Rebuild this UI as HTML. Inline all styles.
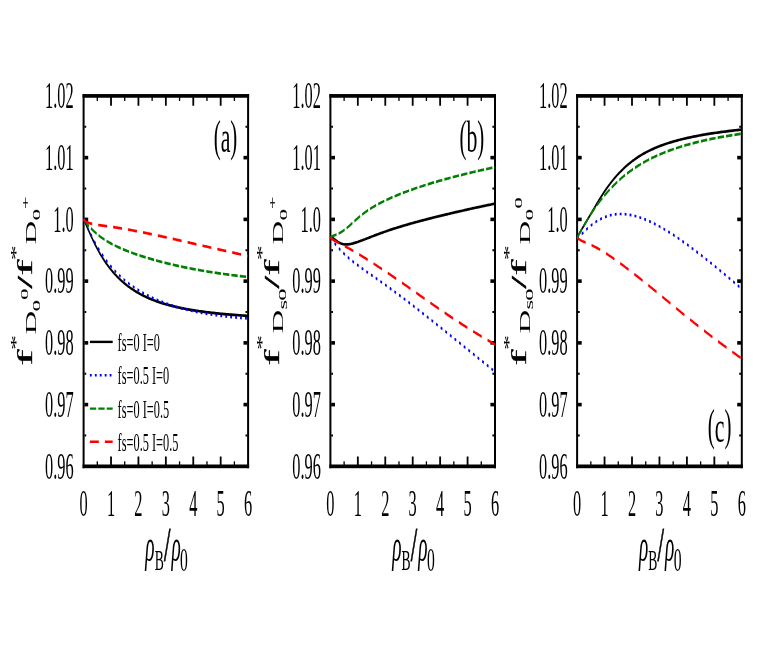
<!DOCTYPE html>
<html><head><meta charset="utf-8"><title>chart</title>
<style>html,body{margin:0;padding:0;background:#fff;}svg{display:block;will-change:transform;font-family:"Liberation Serif", serif;}svg text{filter:grayscale(1);}</style>
</head><body>
<svg width="764" height="655" viewBox="0 0 764 655" role="img" aria-label="Three panel line chart">
<rect x="0" y="0" width="764" height="655" fill="#ffffff"/>
<g fill="#000000" shape-rendering="auto">
<rect x="82.60" y="94.05" width="166.50" height="3.70"/>
<rect x="82.60" y="464.50" width="166.50" height="3.70"/>
<rect x="82.60" y="94.05" width="2.00" height="374.15"/>
<rect x="247.10" y="94.05" width="2.00" height="374.15"/>
<rect x="96.66" y="95.90" width="1.30" height="5.05"/>
<rect x="96.66" y="461.30" width="1.30" height="5.05"/>
<rect x="110.12" y="95.90" width="1.80" height="9.85"/>
<rect x="110.12" y="456.50" width="1.80" height="9.85"/>
<rect x="124.07" y="95.90" width="1.30" height="5.05"/>
<rect x="124.07" y="461.30" width="1.30" height="5.05"/>
<rect x="137.53" y="95.90" width="1.80" height="9.85"/>
<rect x="137.53" y="456.50" width="1.80" height="9.85"/>
<rect x="151.49" y="95.90" width="1.30" height="5.05"/>
<rect x="151.49" y="461.30" width="1.30" height="5.05"/>
<rect x="164.95" y="95.90" width="1.80" height="9.85"/>
<rect x="164.95" y="456.50" width="1.80" height="9.85"/>
<rect x="178.91" y="95.90" width="1.30" height="5.05"/>
<rect x="178.91" y="461.30" width="1.30" height="5.05"/>
<rect x="192.37" y="95.90" width="1.80" height="9.85"/>
<rect x="192.37" y="456.50" width="1.80" height="9.85"/>
<rect x="206.32" y="95.90" width="1.30" height="5.05"/>
<rect x="206.32" y="461.30" width="1.30" height="5.05"/>
<rect x="219.78" y="95.90" width="1.80" height="9.85"/>
<rect x="219.78" y="456.50" width="1.80" height="9.85"/>
<rect x="233.74" y="95.90" width="1.30" height="5.05"/>
<rect x="233.74" y="461.30" width="1.30" height="5.05"/>
<rect x="84.40" y="434.48" width="1.80" height="2.00"/>
<rect x="245.50" y="434.48" width="1.80" height="2.00"/>
<rect x="84.40" y="402.81" width="3.80" height="3.60"/>
<rect x="243.50" y="402.81" width="3.80" height="3.60"/>
<rect x="84.40" y="372.74" width="1.80" height="2.00"/>
<rect x="245.50" y="372.74" width="1.80" height="2.00"/>
<rect x="84.40" y="341.07" width="3.80" height="3.60"/>
<rect x="243.50" y="341.07" width="3.80" height="3.60"/>
<rect x="84.40" y="311.00" width="1.80" height="2.00"/>
<rect x="245.50" y="311.00" width="1.80" height="2.00"/>
<rect x="84.40" y="279.32" width="3.80" height="3.60"/>
<rect x="243.50" y="279.32" width="3.80" height="3.60"/>
<rect x="84.40" y="249.25" width="1.80" height="2.00"/>
<rect x="245.50" y="249.25" width="1.80" height="2.00"/>
<rect x="84.40" y="217.58" width="3.80" height="3.60"/>
<rect x="243.50" y="217.58" width="3.80" height="3.60"/>
<rect x="84.40" y="187.51" width="1.80" height="2.00"/>
<rect x="245.50" y="187.51" width="1.80" height="2.00"/>
<rect x="84.40" y="155.84" width="3.80" height="3.60"/>
<rect x="243.50" y="155.84" width="3.80" height="3.60"/>
<rect x="84.40" y="125.77" width="1.80" height="2.00"/>
<rect x="245.50" y="125.77" width="1.80" height="2.00"/>
</g>
<g fill="none" stroke-linecap="butt" stroke-linejoin="round" transform="scale(0.4750 1)">
<path d="M176.0 219.40 L176.6 219.91 L177.1 220.45 L177.7 221.02 L178.3 221.63 L179.0 222.26 L179.2 222.49 L179.6 222.92 L180.2 223.61 L180.9 224.32 L181.6 225.06 L182.3 225.83 L182.4 225.87 L183.0 226.62 L183.8 227.44 L184.6 228.28 L185.3 229.14 L185.5 229.35 L186.2 230.02 L187.0 230.93 L187.8 231.86 L188.7 232.80 L188.7 232.81 L189.6 233.77 L190.5 234.75 L191.5 235.75 L191.9 236.19 L192.4 236.77 L193.4 237.81 L194.5 238.86 L195.1 239.47 L195.5 239.92 L196.6 241.00 L197.7 242.10 L198.2 242.63 L198.8 243.20 L200.0 244.32 L201.2 245.45 L201.4 245.66 L202.4 246.59 L203.7 247.74 L204.6 248.56 L205.0 248.90 L206.3 250.07 L207.7 251.25 L207.8 251.33 L209.1 252.43 L210.5 253.62 L210.9 253.97 L212.0 254.82 L213.5 256.02 L214.1 256.50 L215.1 257.22 L216.7 258.43 L217.3 258.91 L218.3 259.64 L220.0 260.85 L220.5 261.20 L221.7 262.07 L223.5 263.29 L223.7 263.40 L225.3 264.50 L226.8 265.49 L227.2 265.72 L229.1 266.93 L230.0 267.49 L231.1 268.14 L233.1 269.35 L233.2 269.40 L235.2 270.55 L236.4 271.23 L237.3 271.75 L239.5 272.95 L239.5 272.98 L241.7 274.14 L242.7 274.65 L244.1 275.32 L245.9 276.24 L246.4 276.50 L248.9 277.67 L249.1 277.78 L251.3 278.83 L252.3 279.24 L253.9 279.98 L255.4 280.64 L256.5 281.12 L258.6 281.99 L259.2 282.25 L261.8 283.28 L262.0 283.37 L264.9 284.48 L265.0 284.52 L267.8 285.57 L268.1 285.70 L270.8 286.65 L271.3 286.84 L273.9 287.72 L274.5 287.93 L277.0 288.77 L277.7 288.98 L280.3 289.81 L280.8 289.99 L283.6 290.83 L284.0 290.95 L287.0 291.83 L287.2 291.88 L290.4 292.77 L290.5 292.81 L293.6 293.63 L294.1 293.78 L296.7 294.45 L297.8 294.73 L299.9 295.24 L301.6 295.65 L303.1 296.00 L305.5 296.56 L306.3 296.73 L309.4 297.43 L309.5 297.45 L312.6 298.10 L313.6 298.31 L315.8 298.75 L317.9 299.15 L319.0 299.37 L322.2 299.97 L322.2 299.97 L325.3 300.54 L326.6 300.77 L328.5 301.10 L331.2 301.55 L331.7 301.64 L334.9 302.15 L335.9 302.31 L338.0 302.65 L340.7 303.05 L341.2 303.13 L344.4 303.60 L345.6 303.77 L347.6 304.05 L350.7 304.47 L350.7 304.48 L353.9 304.90 L355.9 305.16 L357.1 305.31 L360.3 305.70 L361.2 305.82 L363.5 306.08 L366.6 306.45 L366.7 306.46 L369.8 306.81 L372.3 307.08 L373.0 307.15 L376.2 307.49 L378.1 307.69 L379.3 307.81 L382.5 308.12 L384.1 308.27 L385.7 308.43 L388.9 308.72 L390.1 308.84 L392.1 309.01 L395.2 309.29 L396.4 309.39 L398.4 309.56 L401.6 309.82 L402.8 309.92 L404.8 310.07 L407.9 310.32 L409.4 310.43 L411.1 310.56 L414.3 310.79 L416.2 310.93 L417.5 311.02 L420.6 311.24 L423.1 311.41 L423.8 311.46 L427.0 311.66 L430.2 311.87 L430.2 311.87 L433.4 312.06 L436.5 312.25 L437.5 312.31 L439.7 312.44 L442.9 312.62 L445.1 312.74 L446.1 312.80 L449.2 312.97 L452.4 313.13 L452.8 313.15 L455.6 313.30 L458.8 313.45 L460.7 313.55 L461.9 313.61 L465.1 313.76 L468.3 313.90 L468.8 313.93 L471.5 314.04 L474.7 314.18 L477.2 314.29 L477.8 314.32 L481.0 314.45 L484.2 314.58 L485.7 314.64 L487.4 314.70 L490.5 314.82 L493.7 314.94 L494.5 314.97 L496.9 315.05 L500.1 315.16 L503.3 315.27 L503.5 315.28 L506.4 315.38 L509.6 315.48 L512.8 315.58 L512.8 315.58 L516.0 315.68 L519.1 315.78 L522.3 315.87" stroke="#000000" stroke-width="2.70"/>
<path d="M176.0 219.40 L176.6 219.90 L177.1 220.42 L177.7 220.98 L178.3 221.55 L179.0 222.15 L179.2 222.37 L179.6 222.78 L180.2 223.42 L180.9 224.09 L181.6 224.79 L182.3 225.50 L182.4 225.54 L183.0 226.24 L183.8 227.00 L184.6 227.77 L185.3 228.57 L185.5 228.76 L186.2 229.39 L187.0 230.22 L187.8 231.07 L188.7 231.94 L188.7 231.95 L189.6 232.83 L190.5 233.74 L191.5 234.66 L191.9 235.06 L192.4 235.59 L193.4 236.55 L194.5 237.51 L195.1 238.08 L195.5 238.49 L196.6 239.49 L197.7 240.49 L198.2 240.99 L198.8 241.51 L200.0 242.55 L201.2 243.59 L201.4 243.78 L202.4 244.64 L203.7 245.71 L204.6 246.46 L205.0 246.78 L206.3 247.87 L207.7 248.96 L207.8 249.04 L209.1 250.06 L210.5 251.17 L210.9 251.50 L212.0 252.29 L213.5 253.41 L214.1 253.86 L215.1 254.54 L216.7 255.68 L217.3 256.12 L218.3 256.82 L220.0 257.96 L220.5 258.29 L221.7 259.11 L223.5 260.27 L223.7 260.37 L225.3 261.43 L226.8 262.37 L227.2 262.59 L229.1 263.75 L230.0 264.29 L231.1 264.91 L233.1 266.08 L233.2 266.13 L235.2 267.24 L236.4 267.90 L237.3 268.41 L239.5 269.58 L239.5 269.60 L241.7 270.74 L242.7 271.24 L244.1 271.90 L245.9 272.81 L246.4 273.07 L248.9 274.23 L249.1 274.33 L251.3 275.38 L252.3 275.79 L253.9 276.54 L255.4 277.20 L256.5 277.68 L258.6 278.56 L259.2 278.83 L261.8 279.88 L262.0 279.97 L264.9 281.10 L265.0 281.14 L267.8 282.23 L268.1 282.37 L270.8 283.35 L271.3 283.55 L273.9 284.47 L274.5 284.69 L277.0 285.58 L277.7 285.80 L280.3 286.67 L280.8 286.87 L283.6 287.76 L284.0 287.90 L287.0 288.85 L287.2 288.91 L290.4 289.87 L290.5 289.92 L293.6 290.81 L294.1 290.98 L296.7 291.72 L297.8 292.03 L299.9 292.61 L301.6 293.07 L303.1 293.46 L305.5 294.10 L306.3 294.29 L309.4 295.09 L309.5 295.12 L312.6 295.87 L313.6 296.12 L315.8 296.63 L317.9 297.11 L319.0 297.37 L322.2 298.08 L322.2 298.08 L325.3 298.77 L326.6 299.05 L328.5 299.44 L331.2 299.99 L331.7 300.09 L334.9 300.73 L335.9 300.93 L338.0 301.34 L340.7 301.84 L341.2 301.94 L344.4 302.52 L345.6 302.74 L347.6 303.09 L350.7 303.63 L350.7 303.64 L353.9 304.17 L355.9 304.49 L357.1 304.69 L360.3 305.19 L361.2 305.34 L363.5 305.68 L366.6 306.16 L366.7 306.17 L369.8 306.62 L372.3 306.98 L373.0 307.07 L376.2 307.51 L378.1 307.77 L379.3 307.93 L382.5 308.35 L384.1 308.54 L385.7 308.75 L388.9 309.14 L390.1 309.29 L392.1 309.52 L395.2 309.89 L396.4 310.02 L398.4 310.25 L401.6 310.60 L402.8 310.73 L404.8 310.94 L407.9 311.27 L409.4 311.42 L411.1 311.59 L414.3 311.90 L416.2 312.08 L417.5 312.21 L420.6 312.50 L423.1 312.72 L423.8 312.79 L427.0 313.07 L430.2 313.34 L430.2 313.34 L433.4 313.60 L436.5 313.86 L437.5 313.94 L439.7 314.10 L442.9 314.34 L445.1 314.50 L446.1 314.58 L449.2 314.80 L452.4 315.02 L452.8 315.05 L455.6 315.24 L458.8 315.44 L460.7 315.57 L461.9 315.65 L465.1 315.84 L468.3 316.03 L468.8 316.06 L471.5 316.21 L474.7 316.39 L477.2 316.52 L477.8 316.56 L481.0 316.73 L484.2 316.89 L485.7 316.96 L487.4 317.04 L490.5 317.19 L493.7 317.34 L494.5 317.37 L496.9 317.48 L500.1 317.61 L503.3 317.74 L503.5 317.76 L506.4 317.87 L509.6 317.99 L512.8 318.11 L512.8 318.11 L516.0 318.22 L519.1 318.33 L522.3 318.43" stroke="#0000ff" stroke-width="2.70" stroke-dasharray="3.9 6.5"/>
<path d="M176.0 219.40 L176.6 219.76 L177.1 220.13 L177.7 220.51 L178.3 220.89 L179.0 221.28 L179.2 221.42 L179.6 221.68 L180.2 222.08 L180.9 222.49 L181.6 222.91 L182.3 223.33 L182.4 223.35 L183.0 223.76 L183.8 224.19 L184.6 224.63 L185.3 225.07 L185.5 225.18 L186.2 225.52 L187.0 225.97 L187.8 226.43 L188.7 226.89 L188.7 226.90 L189.6 227.36 L190.5 227.83 L191.5 228.31 L191.9 228.52 L192.4 228.79 L193.4 229.28 L194.5 229.77 L195.1 230.05 L195.5 230.26 L196.6 230.75 L197.7 231.25 L198.2 231.50 L198.8 231.76 L200.0 232.26 L201.2 232.77 L201.4 232.87 L202.4 233.28 L203.7 233.80 L204.6 234.16 L205.0 234.32 L206.3 234.83 L207.7 235.36 L207.8 235.39 L209.1 235.88 L210.5 236.41 L210.9 236.56 L212.0 236.93 L213.5 237.46 L214.1 237.67 L215.1 237.99 L216.7 238.53 L217.3 238.74 L218.3 239.06 L220.0 239.59 L220.5 239.75 L221.7 240.13 L223.5 240.67 L223.7 240.72 L225.3 241.20 L226.8 241.64 L227.2 241.74 L229.1 242.28 L230.0 242.53 L231.1 242.82 L233.1 243.36 L233.2 243.38 L235.2 243.89 L236.4 244.20 L237.3 244.43 L239.5 244.97 L239.5 244.98 L241.7 245.51 L242.7 245.74 L244.1 246.05 L245.9 246.48 L246.4 246.60 L248.9 247.14 L249.1 247.19 L251.3 247.68 L252.3 247.88 L253.9 248.23 L255.4 248.55 L256.5 248.78 L258.6 249.20 L259.2 249.32 L261.8 249.83 L262.0 249.87 L264.9 250.42 L265.0 250.44 L267.8 250.98 L268.1 251.04 L270.8 251.53 L271.3 251.63 L273.9 252.09 L274.5 252.20 L277.0 252.65 L277.7 252.76 L280.3 253.21 L280.8 253.31 L283.6 253.77 L284.0 253.85 L287.0 254.34 L287.2 254.37 L290.4 254.89 L290.5 254.91 L293.6 255.39 L294.1 255.48 L296.7 255.89 L297.8 256.05 L299.9 256.37 L301.6 256.63 L303.1 256.85 L305.5 257.21 L306.3 257.32 L309.4 257.78 L309.5 257.80 L312.6 258.24 L313.6 258.38 L315.8 258.69 L317.9 258.97 L319.0 259.13 L322.2 259.56 L322.2 259.56 L325.3 259.99 L326.6 260.16 L328.5 260.41 L331.2 260.76 L331.7 260.83 L334.9 261.23 L335.9 261.36 L338.0 261.64 L340.7 261.97 L341.2 262.03 L344.4 262.43 L345.6 262.58 L347.6 262.81 L350.7 263.18 L350.7 263.19 L353.9 263.56 L355.9 263.79 L357.1 263.93 L360.3 264.29 L361.2 264.40 L363.5 264.65 L366.6 265.00 L366.7 265.01 L369.8 265.35 L372.3 265.62 L373.0 265.69 L376.2 266.02 L378.1 266.23 L379.3 266.35 L382.5 266.68 L384.1 266.83 L385.7 267.00 L388.9 267.32 L390.1 267.44 L392.1 267.63 L395.2 267.93 L396.4 268.04 L398.4 268.23 L401.6 268.53 L402.8 268.64 L404.8 268.82 L407.9 269.11 L409.4 269.24 L411.1 269.39 L414.3 269.67 L416.2 269.83 L417.5 269.94 L420.6 270.22 L423.1 270.42 L423.8 270.48 L427.0 270.74 L430.2 271.00 L430.2 271.01 L433.4 271.26 L436.5 271.51 L437.5 271.59 L439.7 271.75 L442.9 272.00 L445.1 272.16 L446.1 272.24 L449.2 272.47 L452.4 272.70 L452.8 272.73 L455.6 272.93 L458.8 273.16 L460.7 273.29 L461.9 273.38 L465.1 273.60 L468.3 273.81 L468.8 273.85 L471.5 274.02 L474.7 274.23 L477.2 274.39 L477.8 274.44 L481.0 274.64 L484.2 274.84 L485.7 274.93 L487.4 275.04 L490.5 275.23 L493.7 275.42 L494.5 275.47 L496.9 275.61 L500.1 275.79 L503.3 275.97 L503.5 275.99 L506.4 276.15 L509.6 276.33 L512.8 276.50 L512.8 276.51 L516.0 276.68 L519.1 276.84 L522.3 277.01" stroke="#008000" stroke-width="2.70" stroke-dasharray="13.3 4.4"/>
<path d="M176.0 219.40 L176.6 219.69 L177.1 219.97 L177.7 220.24 L178.3 220.50 L179.0 220.75 L179.2 220.83 L179.6 220.98 L180.2 221.21 L180.9 221.43 L181.6 221.64 L182.3 221.84 L182.4 221.85 L183.0 222.04 L183.8 222.22 L184.6 222.40 L185.3 222.57 L185.5 222.61 L186.2 222.73 L187.0 222.89 L187.8 223.04 L188.7 223.18 L188.7 223.18 L189.6 223.32 L190.5 223.45 L191.5 223.58 L191.9 223.63 L192.4 223.70 L193.4 223.82 L194.5 223.94 L195.1 224.01 L195.5 224.05 L196.6 224.16 L197.7 224.27 L198.2 224.32 L198.8 224.37 L200.0 224.47 L201.2 224.57 L201.4 224.59 L202.4 224.67 L203.7 224.77 L204.6 224.84 L205.0 224.87 L206.3 224.96 L207.7 225.06 L207.8 225.07 L209.1 225.16 L210.5 225.26 L210.9 225.28 L212.0 225.35 L213.5 225.45 L214.1 225.49 L215.1 225.56 L216.7 225.66 L217.3 225.70 L218.3 225.77 L220.0 225.87 L220.5 225.91 L221.7 225.99 L223.5 226.10 L223.7 226.11 L225.3 226.22 L226.8 226.32 L227.2 226.34 L229.1 226.47 L230.0 226.53 L231.1 226.60 L233.1 226.74 L233.2 226.75 L235.2 226.88 L236.4 226.97 L237.3 227.03 L239.5 227.19 L239.5 227.19 L241.7 227.35 L242.7 227.42 L244.1 227.52 L245.9 227.65 L246.4 227.69 L248.9 227.88 L249.1 227.89 L251.3 228.07 L252.3 228.14 L253.9 228.27 L255.4 228.39 L256.5 228.48 L258.6 228.64 L259.2 228.69 L261.8 228.90 L262.0 228.92 L264.9 229.15 L265.0 229.16 L267.8 229.40 L268.1 229.43 L270.8 229.66 L271.3 229.70 L273.9 229.92 L274.5 229.98 L277.0 230.20 L277.7 230.26 L280.3 230.49 L280.8 230.54 L283.6 230.79 L284.0 230.83 L287.0 231.11 L287.2 231.12 L290.4 231.42 L290.5 231.43 L293.6 231.72 L294.1 231.77 L296.7 232.02 L297.8 232.12 L299.9 232.32 L301.6 232.49 L303.1 232.63 L305.5 232.86 L306.3 232.94 L309.4 233.25 L309.5 233.26 L312.6 233.56 L313.6 233.66 L315.8 233.88 L317.9 234.09 L319.0 234.20 L322.2 234.52 L322.2 234.52 L325.3 234.84 L326.6 234.98 L328.5 235.17 L331.2 235.44 L331.7 235.50 L334.9 235.82 L335.9 235.93 L338.0 236.15 L340.7 236.43 L341.2 236.49 L344.4 236.82 L345.6 236.95 L347.6 237.15 L350.7 237.48 L350.7 237.49 L353.9 237.83 L355.9 238.04 L357.1 238.17 L360.3 238.51 L361.2 238.61 L363.5 238.85 L366.6 239.19 L366.7 239.20 L369.8 239.53 L372.3 239.80 L373.0 239.87 L376.2 240.21 L378.1 240.42 L379.3 240.56 L382.5 240.90 L384.1 241.07 L385.7 241.25 L388.9 241.59 L390.1 241.73 L392.1 241.94 L395.2 242.28 L396.4 242.41 L398.4 242.63 L401.6 242.97 L402.8 243.11 L404.8 243.32 L407.9 243.66 L409.4 243.82 L411.1 244.01 L414.3 244.36 L416.2 244.56 L417.5 244.70 L420.6 245.05 L423.1 245.32 L423.8 245.40 L427.0 245.74 L430.2 246.09 L430.2 246.10 L433.4 246.44 L436.5 246.78 L437.5 246.89 L439.7 247.13 L442.9 247.47 L445.1 247.71 L446.1 247.82 L449.2 248.16 L452.4 248.51 L452.8 248.55 L455.6 248.85 L458.8 249.20 L460.7 249.40 L461.9 249.54 L465.1 249.88 L468.3 250.23 L468.8 250.28 L471.5 250.57 L474.7 250.91 L477.2 251.18 L477.8 251.26 L481.0 251.60 L484.2 251.94 L485.7 252.11 L487.4 252.28 L490.5 252.62 L493.7 252.96 L494.5 253.05 L496.9 253.30 L500.1 253.64 L503.3 253.98 L503.5 254.01 L506.4 254.32 L509.6 254.66 L512.8 255.00 L512.8 255.00 L516.0 255.33 L519.1 255.67 L522.3 256.01" stroke="#ff0000" stroke-width="2.70" stroke-dasharray="18.8 12.7"/>
</g>
<text transform="translate(73.70 478.65) scale(0.4400 1)" font-size="37.20" text-anchor="end" font-weight="normal" font-style="normal">0.96</text>
<text transform="translate(73.70 416.91) scale(0.4400 1)" font-size="37.20" text-anchor="end" font-weight="normal" font-style="normal">0.97</text>
<text transform="translate(73.70 355.17) scale(0.4400 1)" font-size="37.20" text-anchor="end" font-weight="normal" font-style="normal">0.98</text>
<text transform="translate(73.70 293.42) scale(0.4400 1)" font-size="37.20" text-anchor="end" font-weight="normal" font-style="normal">0.99</text>
<text transform="translate(73.70 231.68) scale(0.4400 1)" font-size="37.20" text-anchor="end" font-weight="normal" font-style="normal">1.0</text>
<text transform="translate(73.70 169.94) scale(0.4400 1)" font-size="37.20" text-anchor="end" font-weight="normal" font-style="normal">1.01</text>
<text transform="translate(73.70 108.20) scale(0.4400 1)" font-size="37.20" text-anchor="end" font-weight="normal" font-style="normal">1.02</text>
<text transform="translate(83.60 515.60) scale(0.4400 1)" font-size="37.20" text-anchor="middle" font-weight="normal" font-style="normal">0</text>
<text transform="translate(111.02 515.60) scale(0.4400 1)" font-size="37.20" text-anchor="middle" font-weight="normal" font-style="normal">1</text>
<text transform="translate(138.43 515.60) scale(0.4400 1)" font-size="37.20" text-anchor="middle" font-weight="normal" font-style="normal">2</text>
<text transform="translate(165.85 515.60) scale(0.4400 1)" font-size="37.20" text-anchor="middle" font-weight="normal" font-style="normal">3</text>
<text transform="translate(193.27 515.60) scale(0.4400 1)" font-size="37.20" text-anchor="middle" font-weight="normal" font-style="normal">4</text>
<text transform="translate(220.68 515.60) scale(0.4400 1)" font-size="37.20" text-anchor="middle" font-weight="normal" font-style="normal">5</text>
<text transform="translate(248.10 515.60) scale(0.4400 1)" font-size="37.20" text-anchor="middle" font-weight="normal" font-style="normal">6</text>
<text transform="translate(145.35 560.60) scale(0.4150 1)" font-size="46.50" text-anchor="start" font-weight="normal" font-style="italic">&#961;</text>
<text transform="translate(154.65 570.40) scale(0.4750 1)" font-size="28.70" text-anchor="start" font-weight="normal" font-style="normal">B</text>
<text transform="translate(163.95 560.90) scale(0.4750 1)" font-size="49.00" text-anchor="start" font-weight="normal" font-style="normal" stroke="#000" stroke-width="0.9">/</text>
<text transform="translate(171.45 560.60) scale(0.4150 1)" font-size="46.50" text-anchor="start" font-weight="normal" font-style="italic">&#961;</text>
<text transform="translate(180.05 570.60) scale(0.4750 1)" font-size="33.00" text-anchor="start" font-weight="normal" font-style="normal">0</text>
<g fill="#000000" shape-rendering="auto">
<rect x="329.40" y="94.05" width="166.60" height="3.70"/>
<rect x="329.40" y="464.50" width="166.60" height="3.70"/>
<rect x="329.40" y="94.05" width="2.00" height="374.15"/>
<rect x="494.00" y="94.05" width="2.00" height="374.15"/>
<rect x="343.47" y="95.90" width="1.30" height="5.05"/>
<rect x="343.47" y="461.30" width="1.30" height="5.05"/>
<rect x="356.93" y="95.90" width="1.80" height="9.85"/>
<rect x="356.93" y="456.50" width="1.80" height="9.85"/>
<rect x="370.90" y="95.90" width="1.30" height="5.05"/>
<rect x="370.90" y="461.30" width="1.30" height="5.05"/>
<rect x="384.37" y="95.90" width="1.80" height="9.85"/>
<rect x="384.37" y="456.50" width="1.80" height="9.85"/>
<rect x="398.33" y="95.90" width="1.30" height="5.05"/>
<rect x="398.33" y="461.30" width="1.30" height="5.05"/>
<rect x="411.80" y="95.90" width="1.80" height="9.85"/>
<rect x="411.80" y="456.50" width="1.80" height="9.85"/>
<rect x="425.77" y="95.90" width="1.30" height="5.05"/>
<rect x="425.77" y="461.30" width="1.30" height="5.05"/>
<rect x="439.23" y="95.90" width="1.80" height="9.85"/>
<rect x="439.23" y="456.50" width="1.80" height="9.85"/>
<rect x="453.20" y="95.90" width="1.30" height="5.05"/>
<rect x="453.20" y="461.30" width="1.30" height="5.05"/>
<rect x="466.67" y="95.90" width="1.80" height="9.85"/>
<rect x="466.67" y="456.50" width="1.80" height="9.85"/>
<rect x="480.63" y="95.90" width="1.30" height="5.05"/>
<rect x="480.63" y="461.30" width="1.30" height="5.05"/>
<rect x="331.20" y="434.48" width="1.80" height="2.00"/>
<rect x="492.40" y="434.48" width="1.80" height="2.00"/>
<rect x="331.20" y="402.81" width="3.80" height="3.60"/>
<rect x="490.40" y="402.81" width="3.80" height="3.60"/>
<rect x="331.20" y="372.74" width="1.80" height="2.00"/>
<rect x="492.40" y="372.74" width="1.80" height="2.00"/>
<rect x="331.20" y="341.07" width="3.80" height="3.60"/>
<rect x="490.40" y="341.07" width="3.80" height="3.60"/>
<rect x="331.20" y="311.00" width="1.80" height="2.00"/>
<rect x="492.40" y="311.00" width="1.80" height="2.00"/>
<rect x="331.20" y="279.32" width="3.80" height="3.60"/>
<rect x="490.40" y="279.32" width="3.80" height="3.60"/>
<rect x="331.20" y="249.25" width="1.80" height="2.00"/>
<rect x="492.40" y="249.25" width="1.80" height="2.00"/>
<rect x="331.20" y="217.58" width="3.80" height="3.60"/>
<rect x="490.40" y="217.58" width="3.80" height="3.60"/>
<rect x="331.20" y="187.51" width="1.80" height="2.00"/>
<rect x="492.40" y="187.51" width="1.80" height="2.00"/>
<rect x="331.20" y="155.84" width="3.80" height="3.60"/>
<rect x="490.40" y="155.84" width="3.80" height="3.60"/>
<rect x="331.20" y="125.77" width="1.80" height="2.00"/>
<rect x="492.40" y="125.77" width="1.80" height="2.00"/>
</g>
<g fill="none" stroke-linecap="butt" stroke-linejoin="round" transform="scale(0.4750 1)">
<path d="M695.6 237.40 L696.1 237.35 L696.7 237.34 L697.3 237.37 L697.9 237.43 L698.5 237.52 L698.8 237.56 L699.2 237.65 L699.8 237.80 L700.5 237.98 L701.2 238.18 L701.9 238.41 L701.9 238.42 L702.6 238.65 L703.4 238.91 L704.1 239.18 L704.9 239.47 L705.1 239.54 L705.7 239.77 L706.6 240.08 L707.4 240.39 L708.3 240.70 L708.3 240.71 L709.2 241.02 L710.1 241.34 L711.1 241.65 L711.5 241.79 L712.0 241.96 L713.0 242.26 L714.0 242.55 L714.7 242.71 L715.1 242.83 L716.2 243.09 L717.3 243.34 L717.8 243.45 L718.4 243.57 L719.6 243.78 L720.8 243.96 L721.0 243.99 L722.0 244.12 L723.3 244.25 L724.2 244.33 L724.6 244.35 L725.9 244.42 L727.3 244.46 L727.4 244.47 L728.7 244.48 L730.1 244.46 L730.5 244.45 L731.6 244.42 L733.1 244.35 L733.7 244.32 L734.7 244.26 L736.3 244.13 L736.9 244.08 L737.9 243.99 L739.6 243.82 L740.1 243.76 L741.3 243.62 L743.1 243.41 L743.3 243.38 L744.9 243.17 L746.4 242.95 L746.8 242.90 L748.7 242.62 L749.6 242.48 L750.7 242.32 L752.7 242.00 L752.8 241.98 L754.8 241.65 L756.0 241.45 L756.9 241.29 L759.1 240.91 L759.2 240.90 L761.3 240.52 L762.3 240.34 L763.7 240.10 L765.5 239.76 L766.0 239.67 L768.5 239.23 L768.7 239.18 L771.0 238.77 L771.9 238.60 L773.5 238.29 L775.1 238.01 L776.2 237.81 L778.2 237.42 L778.9 237.31 L781.4 236.83 L781.6 236.79 L784.5 236.27 L784.6 236.25 L787.4 235.74 L787.8 235.67 L790.4 235.19 L791.0 235.09 L793.5 234.63 L794.1 234.52 L796.6 234.07 L797.3 233.95 L799.9 233.50 L800.5 233.39 L803.2 232.92 L803.7 232.84 L806.6 232.33 L806.8 232.29 L810.0 231.76 L810.2 231.74 L813.2 231.23 L813.8 231.14 L816.4 230.71 L817.5 230.53 L819.6 230.19 L821.3 229.92 L822.7 229.69 L825.2 229.31 L825.9 229.19 L829.1 228.70 L829.2 228.69 L832.3 228.21 L833.3 228.06 L835.5 227.74 L837.5 227.43 L838.6 227.27 L841.8 226.80 L841.8 226.80 L845.0 226.34 L846.3 226.16 L848.2 225.89 L850.8 225.51 L851.4 225.44 L854.5 225.00 L855.5 224.86 L857.7 224.56 L860.3 224.20 L860.9 224.12 L864.1 223.69 L865.3 223.53 L867.3 223.26 L870.4 222.85 L870.4 222.84 L873.6 222.42 L875.6 222.17 L876.8 222.01 L880.0 221.60 L880.9 221.48 L883.1 221.19 L886.3 220.79 L886.4 220.78 L889.5 220.38 L892.0 220.07 L892.7 219.99 L895.9 219.59 L897.8 219.35 L899.0 219.20 L902.2 218.81 L903.7 218.62 L905.4 218.42 L908.6 218.04 L909.8 217.89 L911.8 217.66 L914.9 217.28 L916.1 217.14 L918.1 216.90 L921.3 216.53 L922.5 216.38 L924.5 216.15 L927.7 215.79 L929.1 215.62 L930.8 215.42 L934.0 215.05 L935.9 214.84 L937.2 214.69 L940.4 214.33 L942.8 214.05 L943.6 213.97 L946.7 213.61 L949.9 213.25 L950.0 213.25 L953.1 212.90 L956.3 212.55 L957.3 212.44 L959.4 212.20 L962.6 211.85 L964.8 211.61 L965.8 211.50 L969.0 211.16 L972.2 210.81 L972.5 210.77 L975.3 210.47 L978.5 210.13 L980.4 209.92 L981.7 209.79 L984.9 209.45 L988.1 209.12 L988.6 209.06 L991.2 208.78 L994.4 208.45 L996.9 208.19 L997.6 208.11 L1000.8 207.78 L1004.0 207.45 L1005.5 207.30 L1007.1 207.13 L1010.3 206.80 L1013.5 206.47 L1014.3 206.39 L1016.7 206.15 L1019.9 205.83 L1023.0 205.50 L1023.3 205.48 L1026.2 205.18 L1029.4 204.86 L1032.6 204.55 L1032.6 204.54 L1035.7 204.23 L1038.9 203.91 L1042.1 203.60 L1042.1 203.60" stroke="#000000" stroke-width="2.70"/>
<path d="M695.6 237.40 L696.1 237.80 L696.7 238.20 L697.3 238.61 L697.9 239.02 L698.5 239.44 L698.8 239.60 L699.2 239.87 L699.8 240.31 L700.5 240.75 L701.2 241.19 L701.9 241.65 L701.9 241.67 L702.6 242.11 L703.4 242.57 L704.1 243.04 L704.9 243.52 L705.1 243.64 L705.7 244.01 L706.6 244.50 L707.4 245.00 L708.3 245.50 L708.3 245.51 L709.2 246.01 L710.1 246.53 L711.1 247.05 L711.5 247.29 L712.0 247.58 L713.0 248.12 L714.0 248.66 L714.7 248.99 L715.1 249.21 L716.2 249.77 L717.3 250.33 L717.8 250.61 L718.4 250.90 L719.6 251.48 L720.8 252.06 L721.0 252.17 L722.0 252.65 L723.3 253.24 L724.2 253.67 L724.6 253.84 L725.9 254.45 L727.3 255.07 L727.4 255.11 L728.7 255.69 L730.1 256.31 L730.5 256.51 L731.6 256.95 L733.1 257.59 L733.7 257.85 L734.7 258.24 L736.3 258.89 L736.9 259.15 L737.9 259.55 L739.6 260.22 L740.1 260.41 L741.3 260.89 L743.1 261.57 L743.3 261.64 L744.9 262.26 L746.4 262.83 L746.8 262.95 L748.7 263.65 L749.6 263.98 L750.7 264.36 L752.7 265.08 L752.8 265.12 L754.8 265.81 L756.0 266.24 L756.9 266.56 L759.1 267.32 L759.2 267.34 L761.3 268.09 L762.3 268.43 L763.7 268.88 L765.5 269.51 L766.0 269.68 L768.5 270.50 L768.7 270.59 L771.0 271.35 L771.9 271.66 L773.5 272.21 L775.1 272.72 L776.2 273.09 L778.2 273.79 L778.9 273.99 L781.4 274.85 L781.6 274.92 L784.5 275.87 L784.6 275.91 L787.4 276.85 L787.8 276.98 L790.4 277.86 L791.0 278.04 L793.5 278.89 L794.1 279.11 L796.6 279.95 L797.3 280.18 L799.9 281.05 L800.5 281.25 L803.2 282.17 L803.7 282.33 L806.6 283.34 L806.8 283.41 L810.0 284.49 L810.2 284.54 L813.2 285.58 L813.8 285.77 L816.4 286.68 L817.5 287.05 L819.6 287.78 L821.3 288.36 L822.7 288.88 L825.2 289.72 L825.9 289.99 L829.1 291.11 L829.2 291.13 L832.3 292.23 L833.3 292.58 L835.5 293.35 L837.5 294.07 L838.6 294.48 L841.8 295.62 L841.8 295.62 L845.0 296.75 L846.3 297.21 L848.2 297.90 L850.8 298.86 L851.4 299.05 L854.5 300.20 L855.5 300.56 L857.7 301.36 L860.3 302.32 L860.9 302.52 L864.1 303.68 L865.3 304.13 L867.3 304.85 L870.4 306.00 L870.4 306.03 L873.6 307.20 L875.6 307.93 L876.8 308.38 L880.0 309.57 L880.9 309.92 L883.1 310.75 L886.3 311.94 L886.4 311.97 L889.5 313.14 L892.0 314.08 L892.7 314.33 L895.9 315.53 L897.8 316.26 L899.0 316.73 L902.2 317.93 L903.7 318.50 L905.4 319.13 L908.6 320.34 L909.8 320.82 L911.8 321.55 L914.9 322.76 L916.1 323.20 L918.1 323.97 L921.3 325.18 L922.5 325.65 L924.5 326.40 L927.7 327.61 L929.1 328.17 L930.8 328.83 L934.0 330.05 L935.9 330.76 L937.2 331.26 L940.4 332.48 L942.8 333.42 L943.6 333.71 L946.7 334.93 L949.9 336.15 L950.0 336.17 L953.1 337.37 L956.3 338.59 L957.3 338.98 L959.4 339.82 L962.6 341.04 L964.8 341.88 L965.8 342.27 L969.0 343.49 L972.2 344.72 L972.5 344.85 L975.3 345.94 L978.5 347.17 L980.4 347.90 L981.7 348.39 L984.9 349.62 L988.1 350.84 L988.6 351.04 L991.2 352.07 L994.4 353.30 L996.9 354.26 L997.6 354.52 L1000.8 355.75 L1004.0 356.97 L1005.5 357.56 L1007.1 358.19 L1010.3 359.42 L1013.5 360.64 L1014.3 360.95 L1016.7 361.86 L1019.9 363.09 L1023.0 364.31 L1023.3 364.42 L1026.2 365.53 L1029.4 366.75 L1032.6 367.97 L1032.6 367.98 L1035.7 369.19 L1038.9 370.41 L1042.1 371.63 L1042.1 371.63" stroke="#0000ff" stroke-width="2.70" stroke-dasharray="3.9 6.5"/>
<path d="M695.6 237.40 L696.1 237.21 L696.7 237.03 L697.3 236.85 L697.9 236.69 L698.5 236.53 L698.8 236.47 L699.2 236.38 L699.8 236.23 L700.5 236.08 L701.2 235.94 L701.9 235.80 L701.9 235.79 L702.6 235.65 L703.4 235.51 L704.1 235.36 L704.9 235.21 L705.1 235.17 L705.7 235.05 L706.6 234.89 L707.4 234.72 L708.3 234.54 L708.3 234.54 L709.2 234.35 L710.1 234.16 L711.1 233.95 L711.5 233.85 L712.0 233.72 L713.0 233.48 L714.0 233.23 L714.7 233.08 L715.1 232.96 L716.2 232.67 L717.3 232.37 L717.8 232.21 L718.4 232.04 L719.6 231.69 L720.8 231.32 L721.0 231.25 L722.0 230.93 L723.3 230.51 L724.2 230.20 L724.6 230.07 L725.9 229.60 L727.3 229.10 L727.4 229.06 L728.7 228.57 L730.1 228.01 L730.5 227.84 L731.6 227.42 L733.1 226.81 L733.7 226.55 L734.7 226.16 L736.3 225.48 L736.9 225.21 L737.9 224.78 L739.6 224.05 L740.1 223.83 L741.3 223.30 L743.1 222.53 L743.3 222.45 L744.9 221.74 L746.4 221.07 L746.8 220.93 L748.7 220.10 L749.6 219.71 L750.7 219.26 L752.7 218.41 L752.8 218.37 L754.8 217.56 L756.0 217.07 L756.9 216.70 L759.1 215.83 L759.2 215.80 L761.3 214.96 L762.3 214.58 L763.7 214.09 L765.5 213.41 L766.0 213.22 L768.5 212.36 L768.7 212.28 L771.0 211.50 L771.9 211.20 L773.5 210.65 L775.1 210.16 L776.2 209.81 L778.2 209.16 L778.9 208.97 L781.4 208.19 L781.6 208.13 L784.5 207.29 L784.6 207.26 L787.4 206.46 L787.8 206.36 L790.4 205.64 L791.0 205.48 L793.5 204.81 L794.1 204.64 L796.6 203.99 L797.3 203.81 L799.9 203.16 L800.5 203.01 L803.2 202.34 L803.7 202.24 L806.6 201.52 L806.8 201.48 L810.0 200.73 L810.2 200.71 L813.2 200.01 L813.8 199.89 L816.4 199.30 L817.5 199.07 L819.6 198.61 L821.3 198.25 L822.7 197.93 L825.2 197.42 L825.9 197.27 L829.1 196.61 L829.2 196.60 L832.3 195.97 L833.3 195.77 L835.5 195.34 L837.5 194.95 L838.6 194.73 L841.8 194.12 L841.8 194.12 L845.0 193.52 L846.3 193.28 L848.2 192.93 L850.8 192.44 L851.4 192.35 L854.5 191.78 L855.5 191.60 L857.7 191.22 L860.3 190.76 L860.9 190.66 L864.1 190.11 L865.3 189.91 L867.3 189.57 L870.4 189.05 L870.4 189.04 L873.6 188.52 L875.6 188.20 L876.8 188.00 L880.0 187.48 L880.9 187.34 L883.1 186.98 L886.3 186.48 L886.4 186.47 L889.5 185.99 L892.0 185.60 L892.7 185.50 L895.9 185.02 L897.8 184.73 L899.0 184.54 L902.2 184.07 L903.7 183.85 L905.4 183.61 L908.6 183.14 L909.8 182.96 L911.8 182.69 L914.9 182.24 L916.1 182.08 L918.1 181.79 L921.3 181.35 L922.5 181.19 L924.5 180.92 L927.7 180.48 L929.1 180.29 L930.8 180.06 L934.0 179.63 L935.9 179.39 L937.2 179.21 L940.4 178.80 L942.8 178.48 L943.6 178.39 L946.7 177.98 L949.9 177.57 L950.0 177.57 L953.1 177.17 L956.3 176.78 L957.3 176.65 L959.4 176.38 L962.6 175.99 L964.8 175.73 L965.8 175.61 L969.0 175.23 L972.2 174.85 L972.5 174.80 L975.3 174.47 L978.5 174.10 L980.4 173.87 L981.7 173.73 L984.9 173.36 L988.1 172.99 L988.6 172.94 L991.2 172.63 L994.4 172.27 L996.9 171.99 L997.6 171.92 L1000.8 171.56 L1004.0 171.21 L1005.5 171.04 L1007.1 170.86 L1010.3 170.52 L1013.5 170.18 L1014.3 170.09 L1016.7 169.84 L1019.9 169.50 L1023.0 169.16 L1023.3 169.13 L1026.2 168.83 L1029.4 168.50 L1032.6 168.17 L1032.6 168.17 L1035.7 167.84 L1038.9 167.52 L1042.1 167.20 L1042.1 167.20" stroke="#008000" stroke-width="2.70" stroke-dasharray="13.3 4.4"/>
<path d="M695.6 237.40 L696.1 237.68 L696.7 237.95 L697.3 238.21 L697.9 238.47 L698.5 238.72 L698.8 238.81 L699.2 238.97 L699.8 239.22 L700.5 239.46 L701.2 239.69 L701.9 239.93 L701.9 239.94 L702.6 240.16 L703.4 240.39 L704.1 240.62 L704.9 240.85 L705.1 240.91 L705.7 241.08 L706.6 241.31 L707.4 241.54 L708.3 241.78 L708.3 241.78 L709.2 242.01 L710.1 242.25 L711.1 242.49 L711.5 242.60 L712.0 242.74 L713.0 242.99 L714.0 243.25 L714.7 243.40 L715.1 243.51 L716.2 243.77 L717.3 244.05 L717.8 244.19 L718.4 244.33 L719.6 244.62 L720.8 244.92 L721.0 244.97 L722.0 245.22 L723.3 245.54 L724.2 245.77 L724.6 245.86 L725.9 246.20 L727.3 246.54 L727.4 246.57 L728.7 246.90 L730.1 247.27 L730.5 247.39 L731.6 247.66 L733.1 248.05 L733.7 248.22 L734.7 248.46 L736.3 248.89 L736.9 249.06 L737.9 249.33 L739.6 249.78 L740.1 249.92 L741.3 250.25 L743.1 250.74 L743.3 250.79 L744.9 251.24 L746.4 251.67 L746.8 251.77 L748.7 252.31 L749.6 252.57 L750.7 252.86 L752.7 253.44 L752.8 253.47 L754.8 254.04 L756.0 254.39 L756.9 254.66 L759.1 255.30 L759.2 255.31 L761.3 255.95 L762.3 256.25 L763.7 256.64 L765.5 257.19 L766.0 257.34 L768.5 258.07 L768.7 258.14 L771.0 258.82 L771.9 259.10 L773.5 259.59 L775.1 260.06 L776.2 260.39 L778.2 261.03 L778.9 261.22 L781.4 262.00 L781.6 262.07 L784.5 262.95 L784.6 262.98 L787.4 263.85 L787.8 263.97 L790.4 264.78 L791.0 264.95 L793.5 265.74 L794.1 265.95 L796.6 266.73 L797.3 266.94 L799.9 267.75 L800.5 267.94 L803.2 268.80 L803.7 268.95 L806.6 269.89 L806.8 269.95 L810.0 270.97 L810.2 271.01 L813.2 271.98 L813.8 272.16 L816.4 273.00 L817.5 273.35 L819.6 274.03 L821.3 274.58 L822.7 275.06 L825.2 275.84 L825.9 276.09 L829.1 277.12 L829.2 277.14 L832.3 278.16 L833.3 278.49 L835.5 279.20 L837.5 279.87 L838.6 280.25 L841.8 281.30 L841.8 281.30 L845.0 282.35 L846.3 282.77 L848.2 283.40 L850.8 284.28 L851.4 284.45 L854.5 285.51 L855.5 285.84 L857.7 286.57 L860.3 287.45 L860.9 287.63 L864.1 288.69 L865.3 289.10 L867.3 289.76 L870.4 290.80 L870.4 290.83 L873.6 291.90 L875.6 292.55 L876.8 292.97 L880.0 294.04 L880.9 294.35 L883.1 295.11 L886.3 296.18 L886.4 296.20 L889.5 297.25 L892.0 298.10 L892.7 298.32 L895.9 299.39 L897.8 300.05 L899.0 300.46 L902.2 301.53 L903.7 302.04 L905.4 302.59 L908.6 303.65 L909.8 304.07 L911.8 304.71 L914.9 305.77 L916.1 306.15 L918.1 306.82 L921.3 307.87 L922.5 308.28 L924.5 308.92 L927.7 309.96 L929.1 310.44 L930.8 311.00 L934.0 312.04 L935.9 312.64 L937.2 313.07 L940.4 314.10 L942.8 314.89 L943.6 315.12 L946.7 316.14 L949.9 317.15 L950.0 317.17 L953.1 318.16 L956.3 319.17 L957.3 319.48 L959.4 320.17 L962.6 321.16 L964.8 321.84 L965.8 322.15 L969.0 323.14 L972.2 324.12 L972.5 324.23 L975.3 325.10 L978.5 326.07 L980.4 326.65 L981.7 327.03 L984.9 327.99 L988.1 328.95 L988.6 329.10 L991.2 329.90 L994.4 330.85 L996.9 331.59 L997.6 331.79 L1000.8 332.72 L1004.0 333.65 L1005.5 334.10 L1007.1 334.58 L1010.3 335.50 L1013.5 336.42 L1014.3 336.64 L1016.7 337.33 L1019.9 338.23 L1023.0 339.13 L1023.3 339.21 L1026.2 340.03 L1029.4 340.92 L1032.6 341.81 L1032.6 341.81 L1035.7 342.69 L1038.9 343.56 L1042.1 344.43 L1042.1 344.43" stroke="#ff0000" stroke-width="2.70" stroke-dasharray="18.8 12.7"/>
</g>
<text transform="translate(320.90 478.65) scale(0.4400 1)" font-size="37.20" text-anchor="end" font-weight="normal" font-style="normal">0.96</text>
<text transform="translate(320.90 416.91) scale(0.4400 1)" font-size="37.20" text-anchor="end" font-weight="normal" font-style="normal">0.97</text>
<text transform="translate(320.90 355.17) scale(0.4400 1)" font-size="37.20" text-anchor="end" font-weight="normal" font-style="normal">0.98</text>
<text transform="translate(320.90 293.42) scale(0.4400 1)" font-size="37.20" text-anchor="end" font-weight="normal" font-style="normal">0.99</text>
<text transform="translate(320.90 231.68) scale(0.4400 1)" font-size="37.20" text-anchor="end" font-weight="normal" font-style="normal">1.0</text>
<text transform="translate(320.90 169.94) scale(0.4400 1)" font-size="37.20" text-anchor="end" font-weight="normal" font-style="normal">1.01</text>
<text transform="translate(320.90 108.20) scale(0.4400 1)" font-size="37.20" text-anchor="end" font-weight="normal" font-style="normal">1.02</text>
<text transform="translate(330.40 515.60) scale(0.4400 1)" font-size="37.20" text-anchor="middle" font-weight="normal" font-style="normal">0</text>
<text transform="translate(357.83 515.60) scale(0.4400 1)" font-size="37.20" text-anchor="middle" font-weight="normal" font-style="normal">1</text>
<text transform="translate(385.27 515.60) scale(0.4400 1)" font-size="37.20" text-anchor="middle" font-weight="normal" font-style="normal">2</text>
<text transform="translate(412.70 515.60) scale(0.4400 1)" font-size="37.20" text-anchor="middle" font-weight="normal" font-style="normal">3</text>
<text transform="translate(440.13 515.60) scale(0.4400 1)" font-size="37.20" text-anchor="middle" font-weight="normal" font-style="normal">4</text>
<text transform="translate(467.57 515.60) scale(0.4400 1)" font-size="37.20" text-anchor="middle" font-weight="normal" font-style="normal">5</text>
<text transform="translate(495.00 515.60) scale(0.4400 1)" font-size="37.20" text-anchor="middle" font-weight="normal" font-style="normal">6</text>
<text transform="translate(392.20 560.60) scale(0.4150 1)" font-size="46.50" text-anchor="start" font-weight="normal" font-style="italic">&#961;</text>
<text transform="translate(401.50 570.40) scale(0.4750 1)" font-size="28.70" text-anchor="start" font-weight="normal" font-style="normal">B</text>
<text transform="translate(410.80 560.90) scale(0.4750 1)" font-size="49.00" text-anchor="start" font-weight="normal" font-style="normal" stroke="#000" stroke-width="0.9">/</text>
<text transform="translate(418.30 560.60) scale(0.4150 1)" font-size="46.50" text-anchor="start" font-weight="normal" font-style="italic">&#961;</text>
<text transform="translate(426.90 570.60) scale(0.4750 1)" font-size="33.00" text-anchor="start" font-weight="normal" font-style="normal">0</text>
<g fill="#000000" shape-rendering="auto">
<rect x="576.10" y="94.05" width="166.70" height="3.70"/>
<rect x="576.10" y="464.50" width="166.70" height="3.70"/>
<rect x="576.10" y="94.05" width="2.00" height="374.15"/>
<rect x="740.80" y="94.05" width="2.00" height="374.15"/>
<rect x="590.18" y="95.90" width="1.30" height="5.05"/>
<rect x="590.18" y="461.30" width="1.30" height="5.05"/>
<rect x="603.65" y="95.90" width="1.80" height="9.85"/>
<rect x="603.65" y="456.50" width="1.80" height="9.85"/>
<rect x="617.62" y="95.90" width="1.30" height="5.05"/>
<rect x="617.62" y="461.30" width="1.30" height="5.05"/>
<rect x="631.10" y="95.90" width="1.80" height="9.85"/>
<rect x="631.10" y="456.50" width="1.80" height="9.85"/>
<rect x="645.08" y="95.90" width="1.30" height="5.05"/>
<rect x="645.08" y="461.30" width="1.30" height="5.05"/>
<rect x="658.55" y="95.90" width="1.80" height="9.85"/>
<rect x="658.55" y="456.50" width="1.80" height="9.85"/>
<rect x="672.52" y="95.90" width="1.30" height="5.05"/>
<rect x="672.52" y="461.30" width="1.30" height="5.05"/>
<rect x="686.00" y="95.90" width="1.80" height="9.85"/>
<rect x="686.00" y="456.50" width="1.80" height="9.85"/>
<rect x="699.98" y="95.90" width="1.30" height="5.05"/>
<rect x="699.98" y="461.30" width="1.30" height="5.05"/>
<rect x="713.45" y="95.90" width="1.80" height="9.85"/>
<rect x="713.45" y="456.50" width="1.80" height="9.85"/>
<rect x="727.42" y="95.90" width="1.30" height="5.05"/>
<rect x="727.42" y="461.30" width="1.30" height="5.05"/>
<rect x="577.90" y="434.48" width="1.80" height="2.00"/>
<rect x="739.20" y="434.48" width="1.80" height="2.00"/>
<rect x="577.90" y="402.81" width="3.80" height="3.60"/>
<rect x="737.20" y="402.81" width="3.80" height="3.60"/>
<rect x="577.90" y="372.74" width="1.80" height="2.00"/>
<rect x="739.20" y="372.74" width="1.80" height="2.00"/>
<rect x="577.90" y="341.07" width="3.80" height="3.60"/>
<rect x="737.20" y="341.07" width="3.80" height="3.60"/>
<rect x="577.90" y="311.00" width="1.80" height="2.00"/>
<rect x="739.20" y="311.00" width="1.80" height="2.00"/>
<rect x="577.90" y="279.32" width="3.80" height="3.60"/>
<rect x="737.20" y="279.32" width="3.80" height="3.60"/>
<rect x="577.90" y="249.25" width="1.80" height="2.00"/>
<rect x="739.20" y="249.25" width="1.80" height="2.00"/>
<rect x="577.90" y="217.58" width="3.80" height="3.60"/>
<rect x="737.20" y="217.58" width="3.80" height="3.60"/>
<rect x="577.90" y="187.51" width="1.80" height="2.00"/>
<rect x="739.20" y="187.51" width="1.80" height="2.00"/>
<rect x="577.90" y="155.84" width="3.80" height="3.60"/>
<rect x="737.20" y="155.84" width="3.80" height="3.60"/>
<rect x="577.90" y="125.77" width="1.80" height="2.00"/>
<rect x="739.20" y="125.77" width="1.80" height="2.00"/>
</g>
<g fill="none" stroke-linecap="butt" stroke-linejoin="round" transform="scale(0.4750 1)">
<path d="M1214.9 237.50 L1215.5 236.98 L1216.1 236.46 L1216.7 235.93 L1217.3 235.40 L1217.9 234.86 L1218.1 234.67 L1218.5 234.32 L1219.2 233.76 L1219.9 233.20 L1220.6 232.63 L1221.3 232.04 L1221.3 232.01 L1222.0 231.45 L1222.7 230.84 L1223.5 230.22 L1224.3 229.59 L1224.5 229.43 L1225.1 228.94 L1225.9 228.28 L1226.8 227.60 L1227.7 226.90 L1227.7 226.89 L1228.6 226.19 L1229.5 225.46 L1230.4 224.71 L1230.9 224.36 L1231.4 223.93 L1232.4 223.14 L1233.4 222.32 L1234.0 221.83 L1234.5 221.48 L1235.5 220.62 L1236.7 219.74 L1237.2 219.29 L1237.8 218.82 L1239.0 217.89 L1240.2 216.92 L1240.4 216.73 L1241.4 215.93 L1242.6 214.91 L1243.6 214.16 L1243.9 213.86 L1245.3 212.78 L1246.6 211.66 L1246.8 211.57 L1248.0 210.52 L1249.5 209.36 L1249.9 208.99 L1251.0 208.16 L1252.5 206.93 L1253.1 206.42 L1254.0 205.68 L1255.6 204.40 L1256.3 203.87 L1257.3 203.10 L1259.0 201.77 L1259.5 201.36 L1260.7 200.41 L1262.5 199.04 L1262.7 198.89 L1264.3 197.64 L1265.8 196.47 L1266.2 196.23 L1268.1 194.80 L1269.0 194.11 L1270.1 193.36 L1272.1 191.91 L1272.2 191.82 L1274.2 190.45 L1275.4 189.60 L1276.3 188.98 L1278.5 187.51 L1278.6 187.46 L1280.7 186.03 L1281.7 185.38 L1283.1 184.55 L1284.9 183.37 L1285.4 183.07 L1287.9 181.59 L1288.1 181.43 L1290.4 180.11 L1291.3 179.56 L1292.9 178.63 L1294.5 177.76 L1295.6 177.16 L1297.7 176.02 L1298.3 175.69 L1300.8 174.34 L1301.0 174.24 L1303.9 172.79 L1304.0 172.72 L1306.8 171.35 L1307.2 171.16 L1309.8 169.92 L1310.4 169.66 L1312.9 168.51 L1313.6 168.21 L1316.1 167.11 L1316.7 166.81 L1319.3 165.73 L1319.9 165.47 L1322.6 164.37 L1323.1 164.18 L1326.1 163.02 L1326.3 162.94 L1329.5 161.74 L1329.6 161.70 L1332.6 160.59 L1333.2 160.40 L1335.8 159.48 L1336.9 159.12 L1339.0 158.41 L1340.7 157.87 L1342.2 157.39 L1344.6 156.64 L1345.4 156.40 L1348.6 155.46 L1348.6 155.44 L1351.7 154.55 L1352.7 154.28 L1354.9 153.67 L1356.9 153.14 L1358.1 152.83 L1361.3 152.03 L1361.3 152.03 L1364.5 151.25 L1365.7 150.95 L1367.6 150.50 L1370.3 149.90 L1370.8 149.78 L1374.0 149.08 L1375.0 148.87 L1377.2 148.41 L1379.8 147.87 L1380.4 147.76 L1383.5 147.13 L1384.7 146.90 L1386.7 146.52 L1389.8 145.95 L1389.9 145.94 L1393.1 145.37 L1395.0 145.03 L1396.3 144.82 L1399.4 144.29 L1400.4 144.14 L1402.6 143.77 L1405.8 143.27 L1405.9 143.27 L1409.0 142.79 L1411.5 142.42 L1412.2 142.32 L1415.4 141.86 L1417.3 141.59 L1418.5 141.42 L1421.7 140.99 L1423.2 140.79 L1424.9 140.57 L1428.1 140.17 L1429.3 140.01 L1431.3 139.77 L1434.4 139.39 L1435.6 139.25 L1437.6 139.01 L1440.8 138.65 L1442.0 138.52 L1444.0 138.30 L1447.2 137.95 L1448.6 137.80 L1450.3 137.62 L1453.5 137.29 L1455.4 137.10 L1456.7 136.97 L1459.9 136.66 L1462.3 136.42 L1463.1 136.35 L1466.3 136.06 L1469.4 135.77 L1469.5 135.77 L1472.6 135.49 L1475.8 135.21 L1476.8 135.13 L1479.0 134.94 L1482.2 134.68 L1484.3 134.50 L1485.3 134.42 L1488.5 134.17 L1491.7 133.92 L1492.0 133.90 L1494.9 133.68 L1498.1 133.45 L1500.0 133.31 L1501.2 133.22 L1504.4 132.99 L1507.6 132.77 L1508.1 132.73 L1510.8 132.55 L1514.0 132.34 L1516.5 132.18 L1517.1 132.13 L1520.3 131.93 L1523.5 131.73 L1525.0 131.63 L1526.7 131.53 L1529.9 131.34 L1533.1 131.15 L1533.8 131.11 L1536.2 130.97 L1539.4 130.79 L1542.6 130.61 L1542.9 130.59 L1545.8 130.43 L1549.0 130.26 L1552.1 130.09 L1552.2 130.09 L1555.3 129.93 L1558.5 129.76 L1561.7 129.60" stroke="#000000" stroke-width="2.70"/>
<path d="M1214.9 237.50 L1215.5 237.40 L1216.1 237.28 L1216.7 237.13 L1217.3 236.97 L1217.9 236.78 L1218.1 236.70 L1218.5 236.57 L1219.2 236.33 L1219.9 236.08 L1220.6 235.81 L1221.3 235.53 L1221.3 235.51 L1222.0 235.22 L1222.7 234.90 L1223.5 234.56 L1224.3 234.20 L1224.5 234.11 L1225.1 233.83 L1225.9 233.45 L1226.8 233.06 L1227.7 232.65 L1227.7 232.64 L1228.6 232.23 L1229.5 231.80 L1230.4 231.35 L1230.9 231.15 L1231.4 230.90 L1232.4 230.44 L1233.4 229.97 L1234.0 229.69 L1234.5 229.50 L1235.5 229.02 L1236.7 228.53 L1237.2 228.28 L1237.8 228.03 L1239.0 227.54 L1240.2 227.04 L1240.4 226.94 L1241.4 226.53 L1242.6 226.02 L1243.6 225.66 L1243.9 225.52 L1245.3 225.01 L1246.6 224.50 L1246.8 224.45 L1248.0 223.99 L1249.5 223.48 L1249.9 223.32 L1251.0 222.97 L1252.5 222.47 L1253.1 222.26 L1254.0 221.97 L1255.6 221.48 L1256.3 221.28 L1257.3 220.99 L1259.0 220.50 L1259.5 220.36 L1260.7 220.02 L1262.5 219.55 L1262.7 219.50 L1264.3 219.09 L1265.8 218.71 L1266.2 218.64 L1268.1 218.19 L1269.0 217.98 L1270.1 217.76 L1272.1 217.34 L1272.2 217.31 L1274.2 216.93 L1275.4 216.71 L1276.3 216.55 L1278.5 216.18 L1278.6 216.17 L1280.7 215.84 L1281.7 215.69 L1283.1 215.51 L1284.9 215.28 L1285.4 215.22 L1287.9 214.95 L1288.1 214.92 L1290.4 214.71 L1291.3 214.63 L1292.9 214.50 L1294.5 214.39 L1295.6 214.33 L1297.7 214.21 L1298.3 214.19 L1300.8 214.09 L1301.0 214.08 L1303.9 214.02 L1304.0 214.02 L1306.8 214.00 L1307.2 214.00 L1309.8 214.02 L1310.4 214.03 L1312.9 214.09 L1313.6 214.11 L1316.1 214.20 L1316.7 214.23 L1319.3 214.37 L1319.9 214.40 L1322.6 214.58 L1323.1 214.62 L1326.1 214.85 L1326.3 214.87 L1329.5 215.17 L1329.6 215.18 L1332.6 215.50 L1333.2 215.56 L1335.8 215.87 L1336.9 216.01 L1339.0 216.28 L1340.7 216.51 L1342.2 216.73 L1344.6 217.08 L1345.4 217.20 L1348.6 217.71 L1348.6 217.72 L1351.7 218.26 L1352.7 218.43 L1354.9 218.83 L1356.9 219.21 L1358.1 219.43 L1361.3 220.06 L1361.3 220.06 L1364.5 220.71 L1365.7 220.98 L1367.6 221.40 L1370.3 221.99 L1370.8 222.11 L1374.0 222.84 L1375.0 223.07 L1377.2 223.59 L1379.8 224.23 L1380.4 224.37 L1383.5 225.18 L1384.7 225.48 L1386.7 226.00 L1389.8 226.81 L1389.9 226.84 L1393.1 227.70 L1395.0 228.24 L1396.3 228.59 L1399.4 229.49 L1400.4 229.75 L1402.6 230.40 L1405.8 231.34 L1405.9 231.35 L1409.0 232.29 L1411.5 233.05 L1412.2 233.26 L1415.4 234.24 L1417.3 234.84 L1418.5 235.24 L1421.7 236.25 L1423.2 236.73 L1424.9 237.28 L1428.1 238.31 L1429.3 238.72 L1431.3 239.36 L1434.4 240.42 L1435.6 240.81 L1437.6 241.50 L1440.8 242.58 L1442.0 242.99 L1444.0 243.68 L1447.2 244.78 L1448.6 245.28 L1450.3 245.90 L1453.5 247.02 L1455.4 247.68 L1456.7 248.16 L1459.9 249.30 L1462.3 250.18 L1463.1 250.45 L1466.3 251.61 L1469.4 252.77 L1469.5 252.79 L1472.6 253.95 L1475.8 255.13 L1476.8 255.50 L1479.0 256.32 L1482.2 257.51 L1484.3 258.32 L1485.3 258.71 L1488.5 259.92 L1491.7 261.13 L1492.0 261.26 L1494.9 262.35 L1498.1 263.58 L1500.0 264.31 L1501.2 264.80 L1504.4 266.04 L1507.6 267.28 L1508.1 267.47 L1510.8 268.52 L1514.0 269.77 L1516.5 270.75 L1517.1 271.02 L1520.3 272.28 L1523.5 273.54 L1525.0 274.15 L1526.7 274.81 L1529.9 276.08 L1533.1 277.35 L1533.8 277.66 L1536.2 278.62 L1539.4 279.90 L1542.6 281.18 L1542.9 281.30 L1545.8 282.47 L1549.0 283.76 L1552.1 285.05 L1552.2 285.05 L1555.3 286.34 L1558.5 287.63 L1561.7 288.93" stroke="#0000ff" stroke-width="2.70" stroke-dasharray="3.9 6.5"/>
<path d="M1214.9 237.50 L1215.5 237.05 L1216.1 236.59 L1216.7 236.11 L1217.3 235.61 L1217.9 235.09 L1218.1 234.90 L1218.5 234.56 L1219.2 234.02 L1219.9 233.45 L1220.6 232.87 L1221.3 232.28 L1221.3 232.24 L1222.0 231.67 L1222.7 231.04 L1223.5 230.40 L1224.3 229.74 L1224.5 229.57 L1225.1 229.06 L1225.9 228.37 L1226.8 227.66 L1227.7 226.94 L1227.7 226.93 L1228.6 226.20 L1229.5 225.44 L1230.4 224.67 L1230.9 224.32 L1231.4 223.88 L1232.4 223.08 L1233.4 222.26 L1234.0 221.77 L1234.5 221.43 L1235.5 220.58 L1236.7 219.71 L1237.2 219.28 L1237.8 218.83 L1239.0 217.93 L1240.2 217.02 L1240.4 216.84 L1241.4 216.10 L1242.6 215.15 L1243.6 214.47 L1243.9 214.19 L1245.3 213.22 L1246.6 212.23 L1246.8 212.15 L1248.0 211.23 L1249.5 210.21 L1249.9 209.89 L1251.0 209.18 L1252.5 208.13 L1253.1 207.70 L1254.0 207.07 L1255.6 206.00 L1256.3 205.56 L1257.3 204.92 L1259.0 203.82 L1259.5 203.49 L1260.7 202.71 L1262.5 201.59 L1262.7 201.47 L1264.3 200.46 L1265.8 199.51 L1266.2 199.32 L1268.1 198.17 L1269.0 197.61 L1270.1 197.01 L1272.1 195.84 L1272.2 195.77 L1274.2 194.65 L1275.4 193.97 L1276.3 193.47 L1278.5 192.27 L1278.6 192.23 L1280.7 191.06 L1281.7 190.53 L1283.1 189.85 L1284.9 188.88 L1285.4 188.63 L1287.9 187.41 L1288.1 187.28 L1290.4 186.18 L1291.3 185.73 L1292.9 184.95 L1294.5 184.22 L1295.6 183.72 L1297.7 182.75 L1298.3 182.48 L1300.8 181.33 L1301.0 181.24 L1303.9 180.01 L1304.0 179.95 L1306.8 178.77 L1307.2 178.60 L1309.8 177.53 L1310.4 177.30 L1312.9 176.30 L1313.6 176.03 L1316.1 175.07 L1316.7 174.80 L1319.3 173.84 L1319.9 173.61 L1322.6 172.61 L1323.1 172.44 L1326.1 171.39 L1326.3 171.31 L1329.5 170.22 L1329.6 170.18 L1332.6 169.15 L1333.2 168.98 L1335.8 168.11 L1336.9 167.78 L1339.0 167.11 L1340.7 166.59 L1342.2 166.13 L1344.6 165.41 L1345.4 165.17 L1348.6 164.25 L1348.6 164.23 L1351.7 163.35 L1352.7 163.07 L1354.9 162.47 L1356.9 161.93 L1358.1 161.62 L1361.3 160.79 L1361.3 160.79 L1364.5 159.98 L1365.7 159.67 L1367.6 159.19 L1370.3 158.56 L1370.8 158.43 L1374.0 157.69 L1375.0 157.46 L1377.2 156.96 L1379.8 156.38 L1380.4 156.25 L1383.5 155.56 L1384.7 155.31 L1386.7 154.89 L1389.8 154.26 L1389.9 154.24 L1393.1 153.60 L1395.0 153.22 L1396.3 152.97 L1399.4 152.37 L1400.4 152.19 L1402.6 151.77 L1405.8 151.19 L1405.9 151.18 L1409.0 150.62 L1411.5 150.19 L1412.2 150.07 L1415.4 149.53 L1417.3 149.21 L1418.5 149.00 L1421.7 148.48 L1423.2 148.24 L1424.9 147.98 L1428.1 147.48 L1429.3 147.30 L1431.3 147.00 L1434.4 146.53 L1435.6 146.36 L1437.6 146.07 L1440.8 145.61 L1442.0 145.45 L1444.0 145.17 L1447.2 144.74 L1448.6 144.54 L1450.3 144.31 L1453.5 143.90 L1455.4 143.66 L1456.7 143.49 L1459.9 143.09 L1462.3 142.79 L1463.1 142.70 L1466.3 142.32 L1469.4 141.94 L1469.5 141.94 L1472.6 141.58 L1475.8 141.22 L1476.8 141.10 L1479.0 140.86 L1482.2 140.52 L1484.3 140.29 L1485.3 140.18 L1488.5 139.85 L1491.7 139.52 L1492.0 139.49 L1494.9 139.20 L1498.1 138.89 L1500.0 138.70 L1501.2 138.58 L1504.4 138.28 L1507.6 137.98 L1508.1 137.94 L1510.8 137.69 L1514.0 137.41 L1516.5 137.19 L1517.1 137.13 L1520.3 136.85 L1523.5 136.59 L1525.0 136.46 L1526.7 136.32 L1529.9 136.06 L1533.1 135.81 L1533.8 135.75 L1536.2 135.56 L1539.4 135.31 L1542.6 135.07 L1542.9 135.05 L1545.8 134.84 L1549.0 134.61 L1552.1 134.38 L1552.2 134.38 L1555.3 134.16 L1558.5 133.94 L1561.7 133.72" stroke="#008000" stroke-width="2.70" stroke-dasharray="13.3 4.4"/>
<path d="M1214.9 237.50 L1215.5 237.78 L1216.1 238.06 L1216.7 238.32 L1217.3 238.57 L1217.9 238.81 L1218.1 238.90 L1218.5 239.05 L1219.2 239.27 L1219.9 239.49 L1220.6 239.71 L1221.3 239.91 L1221.3 239.92 L1222.0 240.11 L1222.7 240.31 L1223.5 240.51 L1224.3 240.70 L1224.5 240.75 L1225.1 240.89 L1225.9 241.08 L1226.8 241.27 L1227.7 241.46 L1227.7 241.46 L1228.6 241.65 L1229.5 241.84 L1230.4 242.04 L1230.9 242.13 L1231.4 242.24 L1232.4 242.44 L1233.4 242.65 L1234.0 242.77 L1234.5 242.86 L1235.5 243.08 L1236.7 243.31 L1237.2 243.43 L1237.8 243.54 L1239.0 243.79 L1240.2 244.04 L1240.4 244.09 L1241.4 244.31 L1242.6 244.58 L1243.6 244.79 L1243.9 244.87 L1245.3 245.17 L1246.6 245.48 L1246.8 245.51 L1248.0 245.81 L1249.5 246.15 L1249.9 246.26 L1251.0 246.50 L1252.5 246.88 L1253.1 247.04 L1254.0 247.27 L1255.6 247.67 L1256.3 247.85 L1257.3 248.10 L1259.0 248.55 L1259.5 248.68 L1260.7 249.01 L1262.5 249.50 L1262.7 249.55 L1264.3 250.01 L1265.8 250.44 L1266.2 250.54 L1268.1 251.09 L1269.0 251.36 L1270.1 251.67 L1272.1 252.27 L1272.2 252.30 L1274.2 252.89 L1275.4 253.27 L1276.3 253.55 L1278.5 254.23 L1278.6 254.25 L1280.7 254.93 L1281.7 255.25 L1283.1 255.67 L1284.9 256.27 L1285.4 256.43 L1287.9 257.23 L1288.1 257.31 L1290.4 258.05 L1291.3 258.36 L1292.9 258.91 L1294.5 259.43 L1295.6 259.80 L1297.7 260.51 L1298.3 260.72 L1300.8 261.60 L1301.0 261.67 L1303.9 262.66 L1304.0 262.71 L1306.8 263.68 L1307.2 263.82 L1309.8 264.74 L1310.4 264.95 L1312.9 265.84 L1313.6 266.08 L1316.1 266.98 L1316.7 267.22 L1319.3 268.15 L1319.9 268.37 L1322.6 269.36 L1323.1 269.53 L1326.1 270.62 L1326.3 270.70 L1329.5 271.87 L1329.6 271.91 L1332.6 273.05 L1333.2 273.25 L1335.8 274.24 L1336.9 274.63 L1339.0 275.43 L1340.7 276.06 L1342.2 276.63 L1344.6 277.53 L1345.4 277.83 L1348.6 279.04 L1348.6 279.05 L1351.7 280.25 L1352.7 280.62 L1354.9 281.47 L1356.9 282.24 L1358.1 282.69 L1361.3 283.90 L1361.3 283.91 L1364.5 285.13 L1365.7 285.62 L1367.6 286.36 L1370.3 287.39 L1370.8 287.60 L1374.0 288.83 L1375.0 289.21 L1377.2 290.07 L1379.8 291.08 L1380.4 291.31 L1383.5 292.55 L1384.7 293.01 L1386.7 293.79 L1389.8 295.00 L1389.9 295.04 L1393.1 296.28 L1395.0 297.04 L1396.3 297.53 L1399.4 298.78 L1400.4 299.14 L1402.6 300.03 L1405.8 301.28 L1405.9 301.29 L1409.0 302.52 L1411.5 303.50 L1412.2 303.77 L1415.4 305.02 L1417.3 305.77 L1418.5 306.26 L1421.7 307.51 L1423.2 308.09 L1424.9 308.75 L1428.1 309.99 L1429.3 310.47 L1431.3 311.22 L1434.4 312.46 L1435.6 312.90 L1437.6 313.69 L1440.8 314.92 L1442.0 315.38 L1444.0 316.14 L1447.2 317.37 L1448.6 317.92 L1450.3 318.59 L1453.5 319.80 L1455.4 320.51 L1456.7 321.01 L1459.9 322.22 L1462.3 323.15 L1463.1 323.43 L1466.3 324.63 L1469.4 325.82 L1469.5 325.84 L1472.6 327.02 L1475.8 328.21 L1476.8 328.58 L1479.0 329.39 L1482.2 330.57 L1484.3 331.37 L1485.3 331.75 L1488.5 332.92 L1491.7 334.09 L1492.0 334.21 L1494.9 335.25 L1498.1 336.41 L1500.0 337.10 L1501.2 337.56 L1504.4 338.71 L1507.6 339.86 L1508.1 340.03 L1510.8 341.00 L1514.0 342.13 L1516.5 343.02 L1517.1 343.26 L1520.3 344.39 L1523.5 345.51 L1525.0 346.05 L1526.7 346.63 L1529.9 347.75 L1533.1 348.86 L1533.8 349.13 L1536.2 349.96 L1539.4 351.06 L1542.6 352.16 L1542.9 352.25 L1545.8 353.25 L1549.0 354.33 L1552.1 355.42 L1552.2 355.42 L1555.3 356.49 L1558.5 357.57 L1561.7 358.64" stroke="#ff0000" stroke-width="2.70" stroke-dasharray="18.8 12.7"/>
</g>
<text transform="translate(567.70 478.65) scale(0.4400 1)" font-size="37.20" text-anchor="end" font-weight="normal" font-style="normal">0.96</text>
<text transform="translate(567.70 416.91) scale(0.4400 1)" font-size="37.20" text-anchor="end" font-weight="normal" font-style="normal">0.97</text>
<text transform="translate(567.70 355.17) scale(0.4400 1)" font-size="37.20" text-anchor="end" font-weight="normal" font-style="normal">0.98</text>
<text transform="translate(567.70 293.42) scale(0.4400 1)" font-size="37.20" text-anchor="end" font-weight="normal" font-style="normal">0.99</text>
<text transform="translate(567.70 231.68) scale(0.4400 1)" font-size="37.20" text-anchor="end" font-weight="normal" font-style="normal">1.0</text>
<text transform="translate(567.70 169.94) scale(0.4400 1)" font-size="37.20" text-anchor="end" font-weight="normal" font-style="normal">1.01</text>
<text transform="translate(567.70 108.20) scale(0.4400 1)" font-size="37.20" text-anchor="end" font-weight="normal" font-style="normal">1.02</text>
<text transform="translate(577.10 515.60) scale(0.4400 1)" font-size="37.20" text-anchor="middle" font-weight="normal" font-style="normal">0</text>
<text transform="translate(604.55 515.60) scale(0.4400 1)" font-size="37.20" text-anchor="middle" font-weight="normal" font-style="normal">1</text>
<text transform="translate(632.00 515.60) scale(0.4400 1)" font-size="37.20" text-anchor="middle" font-weight="normal" font-style="normal">2</text>
<text transform="translate(659.45 515.60) scale(0.4400 1)" font-size="37.20" text-anchor="middle" font-weight="normal" font-style="normal">3</text>
<text transform="translate(686.90 515.60) scale(0.4400 1)" font-size="37.20" text-anchor="middle" font-weight="normal" font-style="normal">4</text>
<text transform="translate(714.35 515.60) scale(0.4400 1)" font-size="37.20" text-anchor="middle" font-weight="normal" font-style="normal">5</text>
<text transform="translate(741.80 515.60) scale(0.4400 1)" font-size="37.20" text-anchor="middle" font-weight="normal" font-style="normal">6</text>
<text transform="translate(638.95 560.60) scale(0.4150 1)" font-size="46.50" text-anchor="start" font-weight="normal" font-style="italic">&#961;</text>
<text transform="translate(648.25 570.40) scale(0.4750 1)" font-size="28.70" text-anchor="start" font-weight="normal" font-style="normal">B</text>
<text transform="translate(657.55 560.90) scale(0.4750 1)" font-size="49.00" text-anchor="start" font-weight="normal" font-style="normal" stroke="#000" stroke-width="0.9">/</text>
<text transform="translate(665.05 560.60) scale(0.4150 1)" font-size="46.50" text-anchor="start" font-weight="normal" font-style="italic">&#961;</text>
<text transform="translate(673.65 570.60) scale(0.4750 1)" font-size="33.00" text-anchor="start" font-weight="normal" font-style="normal">0</text>
<text transform="translate(213.69 150.50) scale(0.4840 1)" font-size="43.30" text-anchor="start" font-weight="normal" font-style="normal">(</text>
<text transform="translate(220.67 152.30) scale(0.4840 1)" font-size="45.00" text-anchor="start" font-weight="normal" font-style="normal">a</text>
<text transform="translate(230.34 150.50) scale(0.4840 1)" font-size="43.30" text-anchor="start" font-weight="normal" font-style="normal">)</text>
<text transform="translate(459.47 150.50) scale(0.4840 1)" font-size="43.30" text-anchor="start" font-weight="normal" font-style="normal">(</text>
<text transform="translate(466.45 152.30) scale(0.4840 1)" font-size="45.00" text-anchor="start" font-weight="normal" font-style="normal">b</text>
<text transform="translate(477.34 150.50) scale(0.4840 1)" font-size="43.30" text-anchor="start" font-weight="normal" font-style="normal">)</text>
<text transform="translate(707.79 440.00) scale(0.4840 1)" font-size="43.30" text-anchor="start" font-weight="normal" font-style="normal">(</text>
<text transform="translate(714.77 441.80) scale(0.4840 1)" font-size="45.00" text-anchor="start" font-weight="normal" font-style="normal">c</text>
<text transform="translate(724.44 440.00) scale(0.4840 1)" font-size="43.30" text-anchor="start" font-weight="normal" font-style="normal">)</text>
<g fill="none" transform="scale(0.4750 1)">
<path d="M189.26 341.90 L237.26 341.90" stroke="#000000" stroke-width="2.4"/>
<path d="M189.26 375.20 L237.26 375.20" stroke="#0000ff" stroke-width="2.4" stroke-dasharray="3.9 6.5"/>
<path d="M189.26 408.60 L237.26 408.60" stroke="#008000" stroke-width="2.4" stroke-dasharray="13.3 4.4"/>
<path d="M189.26 441.80 L237.26 441.80" stroke="#ff0000" stroke-width="2.4" stroke-dasharray="18.8 12.7"/>
</g>
<text transform="translate(117.60 350.80) scale(0.4750 1)" font-size="26.00" text-anchor="start" font-weight="normal" font-style="normal">fs=0 I=0</text>
<text transform="translate(117.60 384.10) scale(0.4750 1)" font-size="26.00" text-anchor="start" font-weight="normal" font-style="normal">fs=0.5 I=0</text>
<text transform="translate(117.60 417.50) scale(0.4750 1)" font-size="26.00" text-anchor="start" font-weight="normal" font-style="normal">fs=0 I=0.5</text>
<text transform="translate(117.60 450.70) scale(0.4750 1)" font-size="26.00" text-anchor="start" font-weight="normal" font-style="normal">fs=0.5 I=0.5</text>
<text transform="translate(32.20 365.60) rotate(-90) scale(1.0600 0.4750)" font-size="45.00" font-weight="normal" font-style="normal" stroke="#000" stroke-width="0.70" stroke-linejoin="round">f</text>
<text transform="translate(20.60 350.20) rotate(-90) scale(1.0000 0.4750)" font-size="31.00" font-weight="normal" font-style="normal">*</text>
<text transform="translate(36.00 334.40) rotate(-90) scale(1.0500 0.4750)" font-size="31.50" font-weight="normal" font-style="normal">D</text>
<text transform="translate(39.70 311.20) rotate(-90) scale(1.0000 0.4750)" font-size="22.50" font-weight="normal" font-style="normal" stroke="#000" stroke-width="0.15" stroke-linejoin="round">0</text>
<text transform="translate(28.00 299.80) rotate(-90) scale(1.0000 0.4750)" font-size="22.50" font-weight="normal" font-style="normal" stroke="#000" stroke-width="0.15" stroke-linejoin="round">0</text>
<text transform="translate(32.20 288.60) rotate(-90) scale(1.0000 0.4750)" font-size="45.00" font-weight="normal" font-style="normal" stroke="#000" stroke-width="0.80" stroke-linejoin="round">/</text>
<text transform="translate(32.20 275.40) rotate(-90) scale(1.0600 0.4750)" font-size="45.00" font-weight="normal" font-style="normal" stroke="#000" stroke-width="0.70" stroke-linejoin="round">f</text>
<text transform="translate(20.60 260.60) rotate(-90) scale(1.0000 0.4750)" font-size="31.00" font-weight="normal" font-style="normal">*</text>
<text transform="translate(36.00 244.40) rotate(-90) scale(1.0500 0.4750)" font-size="31.50" font-weight="normal" font-style="normal">D</text>
<text transform="translate(39.70 220.20) rotate(-90) scale(1.0000 0.4750)" font-size="22.50" font-weight="normal" font-style="normal" stroke="#000" stroke-width="0.15" stroke-linejoin="round">0</text>
<text transform="translate(29.00 208.90) rotate(-90) scale(1.0000 0.4750)" font-size="22.00" font-weight="normal" font-style="normal" stroke="#000" stroke-width="0.30" stroke-linejoin="round">+</text>
<text transform="translate(279.00 365.60) rotate(-90) scale(1.0600 0.4750)" font-size="45.00" font-weight="normal" font-style="normal" stroke="#000" stroke-width="0.70" stroke-linejoin="round">f</text>
<text transform="translate(267.40 350.20) rotate(-90) scale(1.0000 0.4750)" font-size="31.00" font-weight="normal" font-style="normal">*</text>
<text transform="translate(283.20 333.40) rotate(-90) scale(1.0500 0.4750)" font-size="31.50" font-weight="normal" font-style="normal">D</text>
<text transform="translate(286.70 309.60) rotate(-90) scale(1.0000 0.4750)" font-size="25.00" font-weight="normal" font-style="normal">s</text>
<text transform="translate(286.20 300.70) rotate(-90) scale(1.0800 0.4750)" font-size="22.50" font-weight="normal" font-style="normal" stroke="#000" stroke-width="0.15" stroke-linejoin="round">0</text>
<text transform="translate(279.00 288.60) rotate(-90) scale(1.0000 0.4750)" font-size="45.00" font-weight="normal" font-style="normal" stroke="#000" stroke-width="0.80" stroke-linejoin="round">/</text>
<text transform="translate(279.00 275.40) rotate(-90) scale(1.0600 0.4750)" font-size="45.00" font-weight="normal" font-style="normal" stroke="#000" stroke-width="0.70" stroke-linejoin="round">f</text>
<text transform="translate(267.40 260.60) rotate(-90) scale(1.0000 0.4750)" font-size="31.00" font-weight="normal" font-style="normal">*</text>
<text transform="translate(282.80 244.40) rotate(-90) scale(1.0500 0.4750)" font-size="31.50" font-weight="normal" font-style="normal">D</text>
<text transform="translate(286.50 220.20) rotate(-90) scale(1.0000 0.4750)" font-size="22.50" font-weight="normal" font-style="normal" stroke="#000" stroke-width="0.15" stroke-linejoin="round">0</text>
<text transform="translate(275.80 208.90) rotate(-90) scale(1.0000 0.4750)" font-size="22.00" font-weight="normal" font-style="normal" stroke="#000" stroke-width="0.30" stroke-linejoin="round">+</text>
<text transform="translate(525.70 365.60) rotate(-90) scale(1.0600 0.4750)" font-size="45.00" font-weight="normal" font-style="normal" stroke="#000" stroke-width="0.70" stroke-linejoin="round">f</text>
<text transform="translate(514.10 350.20) rotate(-90) scale(1.0000 0.4750)" font-size="31.00" font-weight="normal" font-style="normal">*</text>
<text transform="translate(529.90 333.40) rotate(-90) scale(1.0500 0.4750)" font-size="31.50" font-weight="normal" font-style="normal">D</text>
<text transform="translate(533.40 309.60) rotate(-90) scale(1.0000 0.4750)" font-size="25.00" font-weight="normal" font-style="normal">s</text>
<text transform="translate(532.90 300.70) rotate(-90) scale(1.0800 0.4750)" font-size="22.50" font-weight="normal" font-style="normal" stroke="#000" stroke-width="0.15" stroke-linejoin="round">0</text>
<text transform="translate(525.70 288.60) rotate(-90) scale(1.0000 0.4750)" font-size="45.00" font-weight="normal" font-style="normal" stroke="#000" stroke-width="0.80" stroke-linejoin="round">/</text>
<text transform="translate(525.70 275.40) rotate(-90) scale(1.0600 0.4750)" font-size="45.00" font-weight="normal" font-style="normal" stroke="#000" stroke-width="0.70" stroke-linejoin="round">f</text>
<text transform="translate(514.10 260.60) rotate(-90) scale(1.0000 0.4750)" font-size="31.00" font-weight="normal" font-style="normal">*</text>
<text transform="translate(529.50 244.40) rotate(-90) scale(1.0500 0.4750)" font-size="31.50" font-weight="normal" font-style="normal">D</text>
<text transform="translate(533.20 220.20) rotate(-90) scale(1.0000 0.4750)" font-size="22.50" font-weight="normal" font-style="normal" stroke="#000" stroke-width="0.15" stroke-linejoin="round">0</text>
<text transform="translate(522.10 208.60) rotate(-90) scale(1.0000 0.4750)" font-size="22.50" font-weight="normal" font-style="normal" stroke="#000" stroke-width="0.15" stroke-linejoin="round">0</text>
</svg>
</body></html>
